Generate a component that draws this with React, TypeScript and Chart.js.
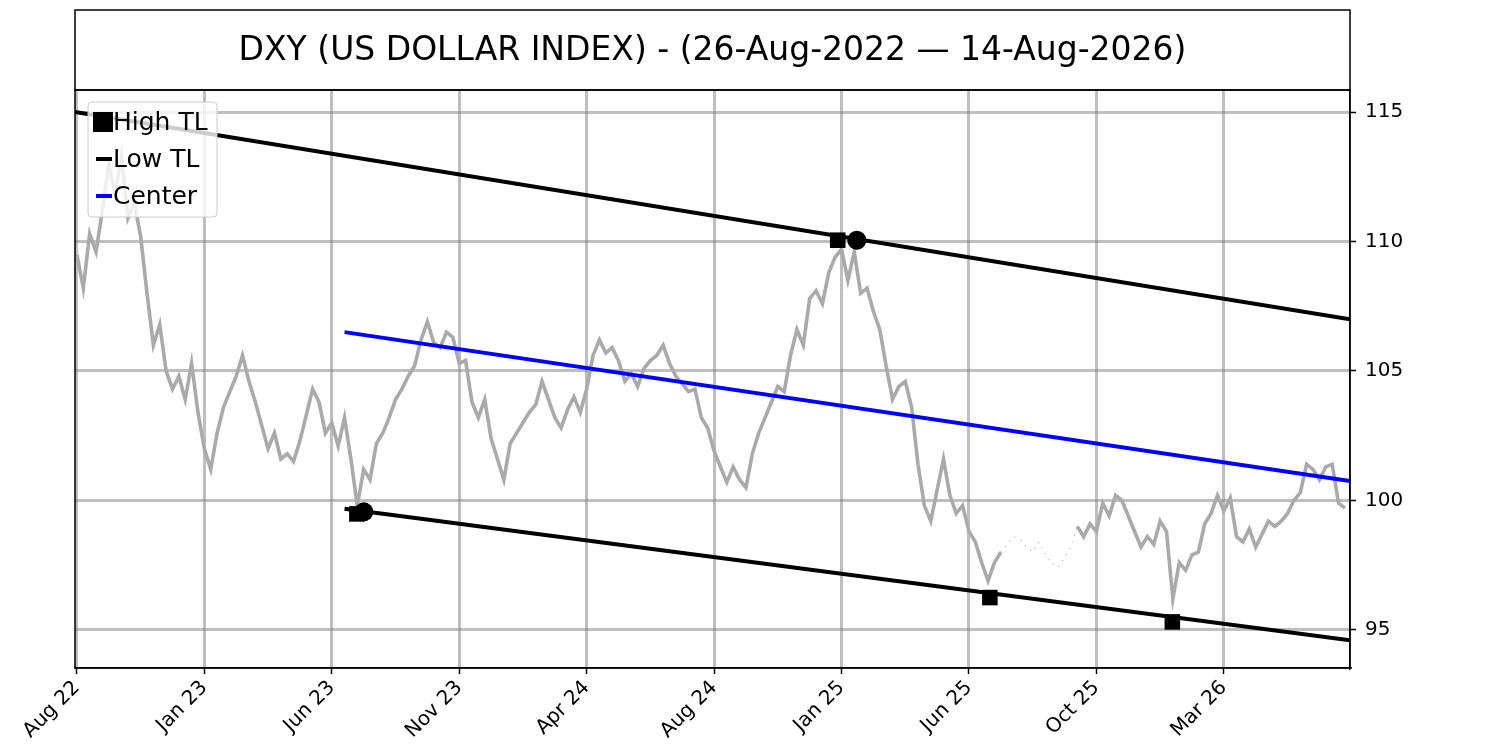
import { useEffect, useRef } from 'react';
import { Chart, registerables } from 'chart.js';

Chart.register(...registerables);

const TITLE = 'DXY (US DOLLAR INDEX) - (26-Aug-2022 \u2014 14-Aug-2026)';

// bar index ticks, one every 100 sessions
const xTickIdx = [0, 100, 200, 300, 400, 500, 600, 700, 800, 900];
const xTickLabels = ['Aug 22', 'Jan 23', 'Jun 23', 'Nov 23', 'Apr 24', 'Aug 24', 'Jan 25', 'Jun 25', 'Oct 25', 'Mar 26'];
const yTicks = [95, 100, 105, 110, 115];

// closing values sampled every 5 sessions
const STEP = 5;
const priceValues = [
  109.5, 108.2, 110.3, 109.6, 111.2, 113.0, 111.8, 113.3, 110.9, 111.5,
  110.2, 108.0, 106.0, 106.8, 105.0, 104.3, 104.8, 103.9, 105.3, 103.4,
  102.0, 101.2, 102.6, 103.6, 104.2, 104.8, 105.6, 104.6, 103.8, 102.9,
  102.0, 102.6, 101.6, 101.8, 101.5, 102.3, 103.3, 104.3, 103.8, 102.6,
  103.0, 102.1, 103.2, 101.6, 99.8, 101.2, 100.8, 102.2, 102.6, 103.2,
  103.9, 104.3, 104.8, 105.2, 106.2, 106.9, 106.1, 105.9, 106.5, 106.3,
  105.3, 105.4, 103.8, 103.2, 103.9, 102.4, 101.6, 100.8, 102.2, 102.6,
  103.0, 103.4, 103.7, 104.6, 103.9, 103.2, 102.8, 103.5, 104.0, 103.4,
  104.3, 105.6, 106.2, 105.7, 105.9, 105.4, 104.6, 104.9, 104.4, 105.1,
  105.4, 105.6, 106.0, 105.3, 104.8, 104.5, 104.2, 104.3, 103.2, 102.8,
  101.9, 101.3, 100.7, 101.3, 100.8, 100.5, 101.8, 102.6, 103.2, 103.8,
  104.4, 104.2, 105.6, 106.6, 106.0, 107.8, 108.1, 107.6, 108.8, 109.4,
  109.7, 108.5, 109.6, 108.0, 108.2, 107.3, 106.6, 105.2, 103.9, 104.4,
  104.6, 103.6, 101.4, 99.8, 99.2, 100.4, 101.6, 100.2, 99.5, 99.8,
  98.8, 98.4, 97.6, 96.9, 97.6, 98.0, 98.3, 98.6, 98.5, 98.2,
  98.0, 98.4, 97.9, 97.6, 97.4, 97.8, 98.2, 99.0, 98.6, 99.1,
  98.8, 99.9, 99.4, 100.2, 100.0, 99.4, 98.8, 98.2, 98.6, 98.3,
  99.2, 98.8, 96.2, 97.6, 97.3, 97.9, 98.0, 99.1, 99.5, 100.2,
  99.6, 100.1, 98.6, 98.4, 98.9, 98.2, 98.7, 99.2, 99.0, 99.2,
  99.5, 100.0, 100.3, 101.4, 101.2, 100.8, 101.3, 101.4, 99.9, 99.7,
];
// sparse-data stretch, drawn dotted
const gapFrom = 725;
const gapTo = 785;

const highTLIdx = [-1.5, 999];
const highTLVal = [115.0, 107.0];
const lowTLIdx = [210, 999];
const lowTLVal = [99.68, 94.6];
const centerIdx = [210, 999];
const centerVal = [106.5, 100.75];

const squareIdx = [597, 219.7, 716.4, 859.6];
const squareVal = [110.05, 99.48, 96.25, 95.31];
const circleIdx = [612, 225.2];
const circleVal = [110.05, 99.56];

const FONT = '"DejaVu Sans", sans-serif';
const GRID = 'rgba(128,128,128,0.5)';

const pts = (xs: number[], ys: number[]) => xs.map((x, i) => ({ x, y: ys[i] }));

const frame = {
  id: 'frame',
  afterDraw(chart: Chart) {
    const { ctx, chartArea: a } = chart;
    ctx.save();
    // axes box
    ctx.strokeStyle = '#000';
    ctx.lineWidth = 1.5;
    ctx.strokeRect(a.left, a.top, a.right - a.left, a.bottom - a.top);
    // title box
    ctx.strokeRect(a.left, 10, a.right - a.left, a.top - 10);
    ctx.fillStyle = '#000';
    ctx.font = `33px ${FONT}`;
    ctx.textAlign = 'center';
    ctx.textBaseline = 'middle';
    ctx.fillText(TITLE, (a.left + a.right) / 2, (10 + a.top) / 2 + 1);

    // legend
    const lx = a.left + 13;
    const ly = a.top + 12;
    const w = 129;
    const h = 115;
    ctx.beginPath();
    ctx.roundRect(lx, ly, w, h, 4);
    ctx.fillStyle = 'rgba(255,255,255,0.8)';
    ctx.fill();
    ctx.strokeStyle = '#cccccc';
    ctx.lineWidth = 1;
    ctx.stroke();
    ctx.font = `25px ${FONT}`;
    ctx.textAlign = 'left';
    const rows = [
      { label: 'High TL', kind: 'square', color: '#000' },
      { label: 'Low TL', kind: 'line', color: '#000' },
      { label: 'Center', kind: 'line', color: '#0000ff' },
    ];
    rows.forEach((r, i) => {
      const cy = ly + 20 + i * 37;
      if (r.kind === 'square') {
        ctx.fillStyle = r.color;
        ctx.fillRect(lx + 5, cy - 10, 20, 20);
      } else {
        ctx.strokeStyle = r.color;
        ctx.lineWidth = 4;
        ctx.beginPath();
        ctx.moveTo(lx + 8, cy);
        ctx.lineTo(lx + 24, cy);
        ctx.stroke();
      }
      ctx.fillStyle = '#000';
      ctx.fillText(r.label, lx + 25, cy + 1);
    });
    ctx.restore();
  },
};

export default function App() {
  const canvas = useRef<HTMLCanvasElement | null>(null);

  useEffect(() => {
    document.body.style.margin = '0';
    const node = canvas.current;
    if (!node) {
      return;
    }

    const idx = priceValues.map((_, i) => i * STEP);
    const main = idx.map((x, i) => ({ x, y: x > gapFrom && x < gapTo ? null : priceValues[i] }));
    const sparse = idx
      .map((x, i) => ({ x, y: priceValues[i] }))
      .filter((p) => p.x >= gapFrom && p.x <= gapTo);

    const chart = new Chart(node, {
      type: 'line',
      data: {
        datasets: [
          {
            label: 'DXY',
            data: main as any,
            borderColor: '#aaaaaa',
            borderWidth: 3.6,
            pointRadius: 0,
            spanGaps: false,
            order: 10,
          },
          {
            label: 'sparse',
            data: sparse,
            borderColor: '#aaaaaa',
            borderWidth: 1.2,
            borderDash: [1, 6],
            pointRadius: 0,
            order: 9,
          },
          {
            label: 'High TL',
            data: pts(highTLIdx, highTLVal),
            borderColor: '#000',
            borderWidth: 4,
            pointRadius: 0,
            order: 5,
          },
          {
            label: 'Low TL',
            data: pts(lowTLIdx, lowTLVal),
            borderColor: '#000',
            borderWidth: 4,
            pointRadius: 0,
            order: 5,
          },
          {
            label: 'Center',
            data: pts(centerIdx, centerVal),
            borderColor: '#0000ff',
            borderWidth: 4,
            pointRadius: 0,
            order: 6,
          },
          {
            label: 'pivots',
            data: pts(squareIdx, squareVal),
            showLine: false,
            pointStyle: 'rect',
            pointRadius: 11,
            pointBackgroundColor: '#000',
            pointBorderColor: '#000',
            pointBorderWidth: 0,
            order: 1,
          },
          {
            label: 'anchors',
            data: pts(circleIdx, circleVal),
            showLine: false,
            pointStyle: 'circle',
            pointRadius: 9.5,
            pointBackgroundColor: '#000',
            pointBorderColor: '#000',
            pointBorderWidth: 0,
            order: 1,
          },
        ],
      },
      options: {
        animation: false,
        responsive: true,
        maintainAspectRatio: false,
        layout: { padding: { left: 75, top: 90, right: 0, bottom: 0 } },
        plugins: {
          legend: { display: false },
          title: { display: false },
          tooltip: { enabled: false },
        },
        scales: {
          x: {
            type: 'linear',
            position: 'bottom',
            min: -1.5,
            max: 999,
            afterBuildTicks: (s) => {
              s.ticks = xTickIdx.map((value) => ({ value }));
            },
            afterFit: (s) => {
              s.height = 82;
            },
            ticks: {
              autoSkip: false,
              maxRotation: 45,
              minRotation: 45,
              color: '#000',
              font: { family: FONT, size: 20 },
              padding: 2,
              callback: (v) => xTickLabels[xTickIdx.indexOf(Number(v))] ?? '',
            },
            grid: {
              color: GRID,
              lineWidth: 3,
              tickColor: '#000',
              tickWidth: 1.5,
              tickLength: 6,
            },
            border: { display: true, color: '#000', width: 1.5 },
          },
          y: {
            type: 'linear',
            position: 'right',
            min: 93.53,
            max: 115.85,
            afterBuildTicks: (s) => {
              s.ticks = yTicks.map((value) => ({ value }));
            },
            afterFit: (s) => {
              s.width = 150;
            },
            ticks: {
              color: '#000',
              font: { family: FONT, size: 20 },
              padding: 9,
            },
            grid: {
              color: GRID,
              lineWidth: 3,
              tickColor: '#000',
              tickWidth: 1.5,
              tickLength: 6,
            },
            border: { display: true, color: '#000', width: 1.5 },
          },
        },
      },
      plugins: [frame],
    });

    return () => {
      chart.destroy();
    };
  }, []);

  return (
    <div style={{ width: 1500, height: 750, position: 'relative' }}>
      <canvas ref={canvas} role="img" aria-label="DXY channel chart" />
    </div>
  );
}
